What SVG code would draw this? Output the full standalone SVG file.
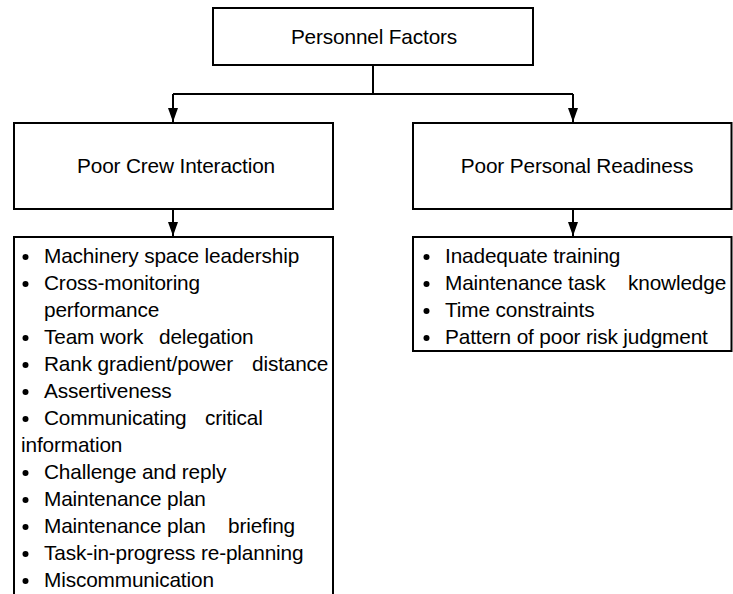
<svg xmlns="http://www.w3.org/2000/svg" width="733" height="594" viewBox="0 0 733 594">
<style>
.box{fill:#fff;stroke:#000;stroke-width:2}
.ln{fill:none;stroke:#000;stroke-width:2}
text{font-family:"Liberation Sans",Arial,sans-serif;font-size:20.8px;fill:#000;letter-spacing:-0.15px}
.c{text-anchor:middle}
</style>
<defs>
<marker id="ah" markerWidth="14" markerHeight="10" refX="14" refY="5" orient="auto" markerUnits="userSpaceOnUse" viewBox="0 0 14 10">
<path d="M0,0 L14,5 L0,10 Z" fill="#000"/>
</marker>
</defs>
<rect width="733" height="594" fill="#fff"/>
<g id="connectors">
<path class="ln" d="M373,65 V94"/>
<path class="ln" d="M173,94 H573"/>
<path class="ln" d="M173,94 V122" marker-end="url(#ah)"/>
<path class="ln" d="M573,94 V122" marker-end="url(#ah)"/>
<path class="ln" d="M173,209 V236" marker-end="url(#ah)"/>
<path class="ln" d="M573,209 V236" marker-end="url(#ah)"/>
</g>
<g id="personnel-factors">
<rect class="box" x="213" y="8" width="320" height="57"/>
<text class="c" x="374" y="44">Personnel Factors</text>
</g>
<g id="poor-crew-interaction">
<rect class="box" x="14" y="123" width="319" height="86"/>
<text class="c" x="176" y="173">Poor Crew Interaction</text>
</g>
<g id="poor-personal-readiness">
<rect class="box" x="413" y="123" width="318.5" height="86"/>
<text class="c" x="577" y="173">Poor Personal Readiness</text>
</g>
<g id="crew-interaction-list">
<path class="ln" d="M14,596 V237 H333 V596"/>
<g fill="#000">
<circle cx="25.5" cy="257" r="3"/>
<circle cx="25.5" cy="284" r="3"/>
<circle cx="25.5" cy="338" r="3"/>
<circle cx="25.5" cy="365" r="3"/>
<circle cx="25.5" cy="392" r="3"/>
<circle cx="25.5" cy="419" r="3"/>
<circle cx="25.5" cy="473" r="3"/>
<circle cx="25.5" cy="500" r="3"/>
<circle cx="25.5" cy="527" r="3"/>
<circle cx="25.5" cy="554" r="3"/>
<circle cx="25.5" cy="581" r="3"/>
</g>
<text x="44" y="263">Machinery space leadership</text>
<text x="44" y="290">Cross-monitoring</text>
<text x="44" y="317">performance</text>
<text y="344"><tspan x="44">Team work</tspan> <tspan x="159">delegation</tspan></text>
<text y="371"><tspan x="44">Rank gradient/power</tspan> <tspan x="252">distance</tspan></text>
<text x="44" y="398">Assertiveness</text>
<text y="425"><tspan x="44">Communicating</tspan> <tspan x="205">critical</tspan></text>
<text x="21" y="452">information</text>
<text x="44" y="479">Challenge and reply</text>
<text x="44" y="506">Maintenance plan</text>
<text y="533"><tspan x="44">Maintenance plan</tspan> <tspan x="228">briefing</tspan></text>
<text x="44" y="560">Task-in-progress re-planning</text>
<text x="44" y="587">Miscommunication</text>
</g>
<g id="personal-readiness-list">
<rect class="box" x="413" y="237" width="318.5" height="114"/>
<g fill="#000">
<circle cx="426.5" cy="257" r="3"/>
<circle cx="426.5" cy="284" r="3"/>
<circle cx="426.5" cy="311" r="3"/>
<circle cx="426.5" cy="338" r="3"/>
</g>
<text x="445" y="263">Inadequate training</text>
<text y="290"><tspan x="445">Maintenance task</tspan> <tspan x="628">knowledge</tspan></text>
<text x="445" y="317">Time constraints</text>
<text x="445" y="344">Pattern of poor risk judgment</text>
</g>
</svg>
